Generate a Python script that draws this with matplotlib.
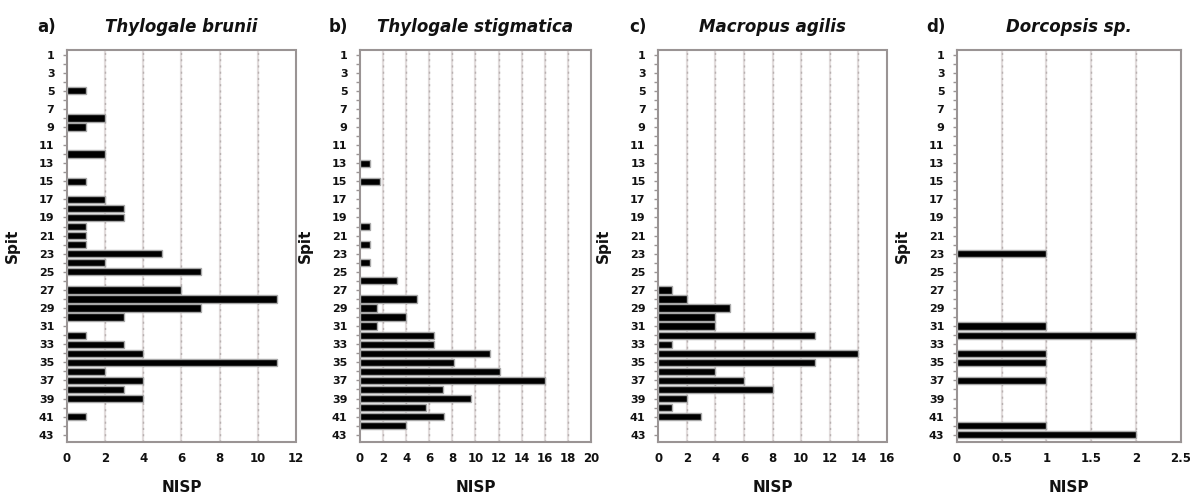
"""
NISP per spit for four macropod taxa -- horizontal bar panels a) to d).
"""

import matplotlib
matplotlib.use("Agg")
import matplotlib.pyplot as plt
from matplotlib import font_manager

# ================================================================
# DATA
# ================================================================

SPITS = list(range(1, 44))
SPIT_LABELS = [str(s) for s in range(1, 44, 2)]

# spit -> NISP (only spits with a non-zero count)
brunii_spits = [5, 8, 9, 12, 15, 17, 18, 19, 20, 21, 22, 23, 24, 25, 27, 28,
                29, 30, 32, 33, 34, 35, 36, 37, 38, 39, 41]
brunii_nisp = [1, 2, 1, 2, 1, 2, 3, 3, 1, 1, 1, 5, 2, 7, 6, 11,
               7, 3, 1, 3, 4, 11, 2, 4, 3, 4, 1]

stigmatica_spits = [13, 15, 20, 22, 24, 26, 28, 29, 30, 31, 32, 33, 34, 35,
                    36, 37, 38, 39, 40, 41, 42]
stigmatica_nisp = [0.9, 1.7, 0.9, 0.9, 0.9, 3.2, 4.9, 1.5, 4.0, 1.5, 6.4, 6.4,
                   11.3, 8.1, 12.1, 16.0, 7.2, 9.6, 5.7, 7.3, 4.0]

agilis_spits = [27, 28, 29, 30, 31, 32, 33, 34, 35, 36, 37, 38, 39, 40, 41]
agilis_nisp = [1, 2, 5, 4, 4, 11, 1, 14, 11, 4, 6, 8, 2, 1, 3]

dorcopsis_spits = [23, 31, 32, 34, 35, 37, 42, 43]
dorcopsis_nisp = [1, 1, 2, 1, 1, 1, 1, 2]

PANELS = [
    ("a)", "Thylogale brunii", brunii_spits, brunii_nisp,
     [0, 2, 4, 6, 8, 10, 12], ["0", "2", "4", "6", "8", "10", "12"]),
    ("b)", "Thylogale stigmatica", stigmatica_spits, stigmatica_nisp,
     list(range(0, 21, 2)), [str(v) for v in range(0, 21, 2)]),
    ("c)", "Macropus agilis", agilis_spits, agilis_nisp,
     list(range(0, 17, 2)), [str(v) for v in range(0, 17, 2)]),
    ("d)", "Dorcopsis sp.", dorcopsis_spits, dorcopsis_nisp,
     [0, 0.5, 1, 1.5, 2, 2.5], ["0", "0.5", "1", "1.5", "2", "2.5"]),
]

# axes boxes in figure fractions: left, bottom, width, height
AX_BOXES = [
    (0.0563, 0.1107, 0.1924, 0.7887),
    (0.3025, 0.1107, 0.1941, 0.7887),
    (0.5530, 0.1107, 0.1924, 0.7887),
    (0.8042, 0.1107, 0.1880, 0.7887),
]

# ================================================================
# STYLE
# ================================================================

installed = {f.name for f in font_manager.fontManager.ttflist}
FAMILY = [f for f in ["Liberation Sans Narrow", "DejaVu Sans Condensed",
                      "DejaVu Sans"] if f in installed] or ["DejaVu Sans"]
plt.rcParams["font.family"] = FAMILY

GRID_COLOR = "#b8b0b0"
SPINE_COLOR = "#9a9494"
TEXT_COLOR = "#111111"


def draw_panel(ax, letter, title, spits, nisp, xticks, xlabels):
    ax.barh(spits, nisp, height=0.8, color="black",
            edgecolor="#a8a8a8", linewidth=1.0, zorder=3)

    ax.set_xlim(xticks[0], xticks[-1])
    ax.set_ylim(43.8, 0.5)

    ax.set_xticks(xticks)
    ax.set_xticklabels(xlabels, fontsize=8.5, fontweight="bold",
                       color=TEXT_COLOR)
    ax.set_yticks(range(1, 44, 2))
    ax.set_yticklabels(SPIT_LABELS, fontsize=8, fontweight="bold",
                       color=TEXT_COLOR)
    ax.set_yticks(SPITS, minor=True)
    ax.tick_params(axis="y", which="both", length=3, width=1,
                   color=SPINE_COLOR, pad=6)
    ax.tick_params(axis="x", length=0, pad=7)

    for v in xticks[1:-1]:
        ax.axvline(v, color="#e2dcdc", linewidth=1.6, zorder=1)
        ax.axvline(v, color=GRID_COLOR, linewidth=1.0,
                   linestyle=(0, (1.5, 3)), zorder=1)

    for side in ["left", "right", "top", "bottom"]:
        ax.spines[side].set_color(SPINE_COLOR)
        ax.spines[side].set_linewidth(1.5)
        ax.spines[side].set_linestyle((0, (1.5, 1)))

    ax.set_xlabel("NISP", fontsize=11, fontweight="bold", color=TEXT_COLOR,
                  labelpad=11)
    ax.set_ylabel("Spit", fontsize=11, fontweight="bold", color=TEXT_COLOR,
                  labelpad=14)

    ax.text(0.5, 1.035, title, transform=ax.transAxes, ha="center",
            va="bottom", fontsize=12, fontweight="bold", style="italic",
            color=TEXT_COLOR)
    ax.text(-0.05, 1.035, letter, transform=ax.transAxes, ha="right",
            va="bottom", fontsize=12, fontweight="bold", color=TEXT_COLOR)


def main():
    fig = plt.figure(figsize=(11.9, 4.97), dpi=100)
    for box, panel in zip(AX_BOXES, PANELS):
        ax = fig.add_axes(box)
        draw_panel(ax, *panel)
    fig.savefig("out.png", dpi=100, facecolor="white")
    plt.close(fig)


if __name__ == "__main__":
    main()
